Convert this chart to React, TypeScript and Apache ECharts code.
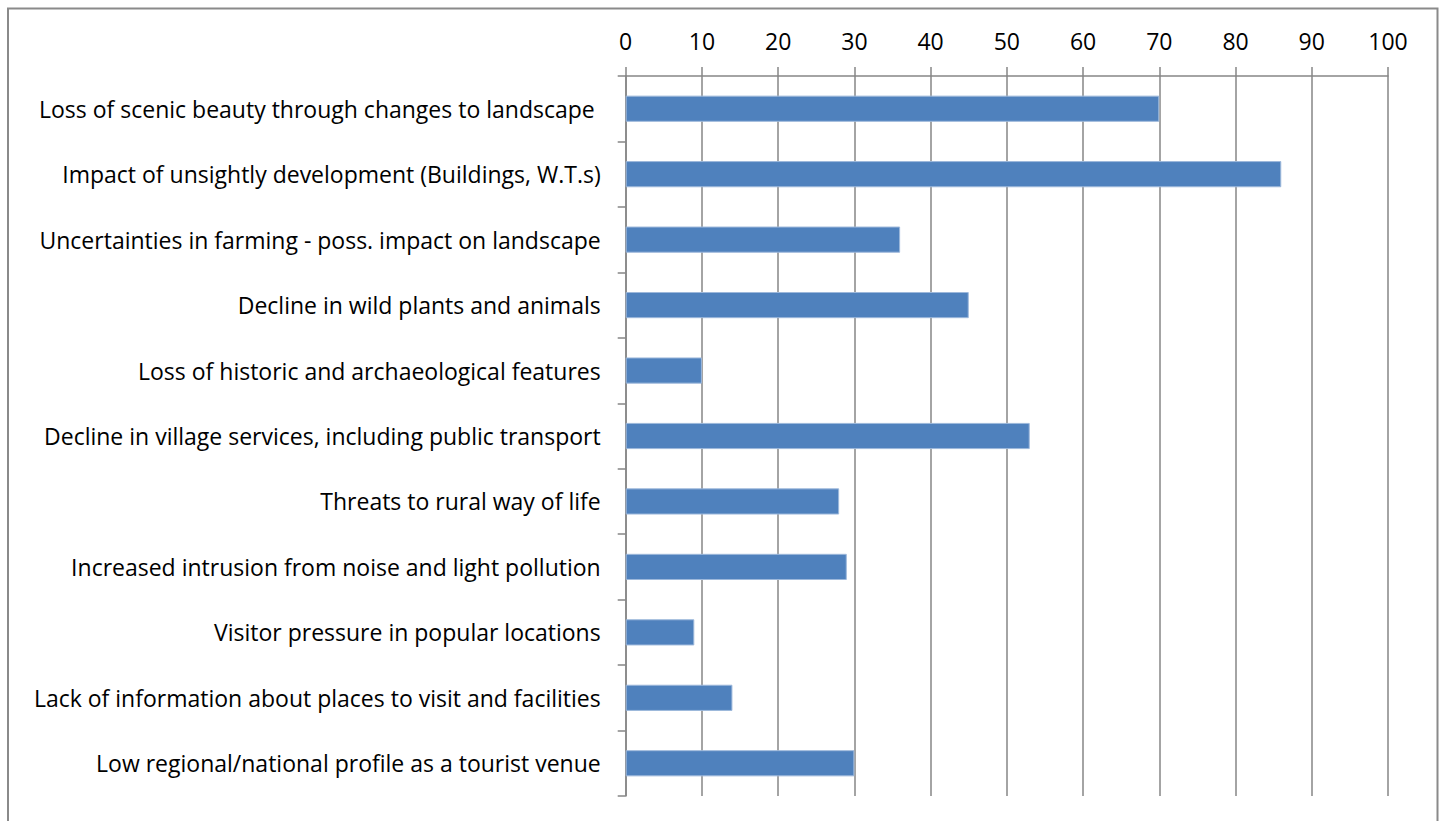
import React, { useEffect, useRef } from "react";
import * as echarts from "echarts";

const categories: string[] = [
  "Loss of scenic beauty through changes to landscape ",
  "Impact of unsightly development (Buildings, W.T.s)",
  "Uncertainties in farming - poss. impact on landscape",
  "Decline in wild plants and animals",
  "Loss of historic and archaeological features",
  "Decline in village services, including public transport",
  "Threats to rural way of life",
  "Increased intrusion from noise and light pollution",
  "Visitor pressure in popular locations",
  "Lack of information about places to visit and facilities",
  "Low regional/national profile as a tourist venue",
];

const values: number[] = [70, 86, 36, 45, 10, 53, 28, 29, 9, 14, 30];

const axisMin = 0;
const axisMax = 100;
const axisInterval = 10;

const FONT = "'Open Sans', Lato, sans-serif";
const GRAY = "#868686";

export default function App() {
  const ref = useRef<HTMLDivElement>(null);

  useEffect(() => {
    if (!ref.current) return;
    const chart = echarts.init(ref.current, undefined, { renderer: "svg" });
    chart.setOption({
      animation: false,
      backgroundColor: "#ffffff",
      textStyle: { fontFamily: FONT },
      graphic: [
        {
          type: "polyline",
          shape: {
            points: [
              [8, 830],
              [8, 8.5],
              [1437.5, 8.5],
              [1437.5, 830],
            ],
          },
          style: { stroke: "#8a8a8a", lineWidth: 2, fill: "none" },
          silent: true,
        },
      ],
      grid: {
        left: 625.7,
        right: 55,
        top: 76,
        bottom: 25,
        containLabel: false,
      },
      xAxis: {
        type: "value",
        position: "top",
        min: axisMin,
        max: axisMax,
        interval: axisInterval,
        axisLine: { show: true, lineStyle: { color: GRAY, width: 1.5 } },
        axisTick: {
          show: true,
          inside: false,
          length: 9,
          lineStyle: { color: GRAY, width: 1.5 },
        },
        axisLabel: {
          color: "#000000",
          fontSize: 23,
          fontFamily: FONT,
          margin: 24,
        },
        splitLine: { show: true, lineStyle: { color: GRAY, width: 1.5 } },
      },
      yAxis: {
        type: "category",
        data: categories,
        inverse: true,
        boundaryGap: true,
        axisLine: { show: true, lineStyle: { color: GRAY, width: 1.5 } },
        axisTick: {
          show: true,
          inside: false,
          length: 8,
          alignWithLabel: false,
          lineStyle: { color: GRAY, width: 1.5 },
        },
        axisLabel: {
          color: "#000000",
          fontSize: 23,
          fontFamily: FONT,
          margin: 25,
        },
        splitLine: { show: false },
      },
      series: [
        {
          type: "bar",
          data: values,
          barWidth: "40%",
          itemStyle: {
            color: "#4F81BD",
            borderColor: "#9db8db",
            borderWidth: 1,
          },
          silent: true,
        },
      ],
    });
    return () => chart.dispose();
  }, []);

  return (
    <div
      ref={ref}
      style={{
        position: "fixed",
        left: 0,
        top: 0,
        width: 1443,
        height: 821,
        background: "#ffffff",
      }}
    />
  );
}
